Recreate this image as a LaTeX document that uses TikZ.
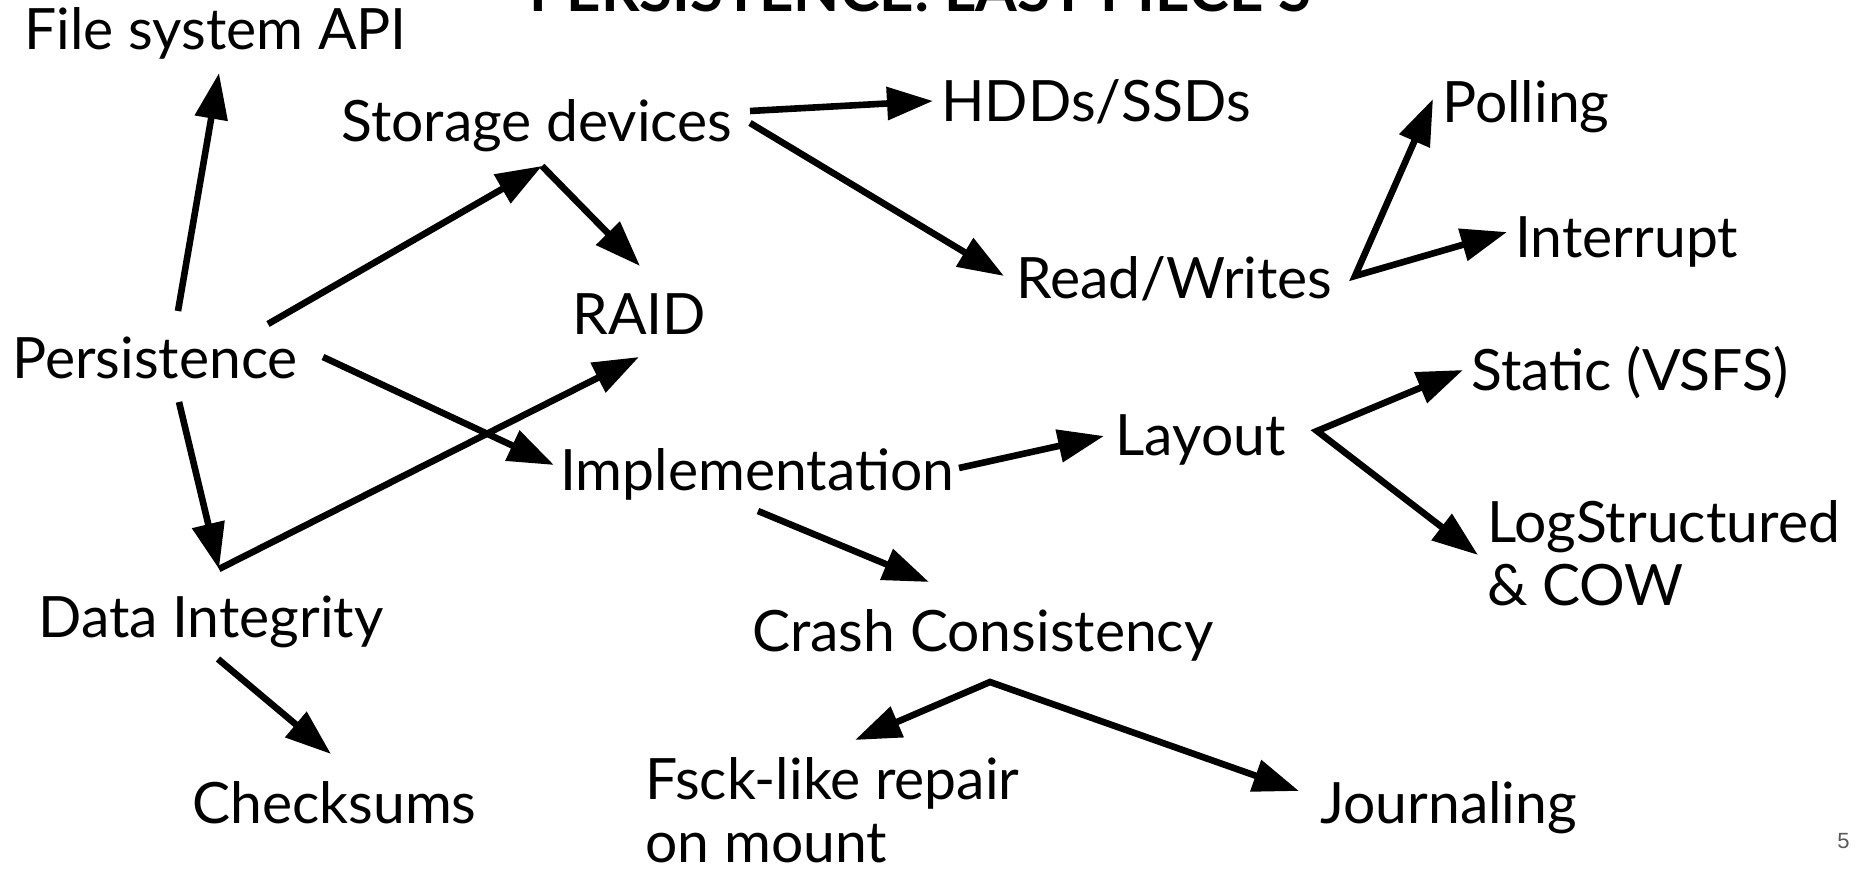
\documentclass[tikz,border=0pt]{standalone}
\usepackage{fontspec}
\setmainfont{Lato}
\newfontfamily\numfont{Liberation Sans}
\usetikzlibrary{arrows.meta}
\begin{document}
\begin{tikzpicture}[x=0.5pt,y=-0.5pt,
  lbl/.style={anchor=base west, inner sep=0pt, align=left,
    font=\fontsize{28.5}{31.5}\selectfont},
  arr/.style={line width=3.3pt, -{Triangle[length=23pt,width=16pt]}},
  twoarr/.style={line width=3.3pt, line join=miter,
    {Triangle[length=23pt,width=16pt]}-{Triangle[length=23pt,width=16pt]}}]
\useasboundingbox (0,0) rectangle (1856,876);
\clip (0,0) rectangle (1856,876);

% heading, cut by the top edge of the slide
\node[anchor=base west, inner sep=0pt, font=\fontsize{30}{36}\selectfont\bfseries]
  (title) at (529,12) {PERSISTENCE: LAST PIECE S};

% topics (two-line labels are placed by the baseline of their last line)
\node[lbl] (fsapi)   at (24,50)    {File system API};
\node[lbl] (storage) at (341,142)  {Storage devices};
\node[lbl] (hdd)     at (941,122)  {HDDs/SSDs};
\node[lbl] (poll)    at (1442,123) {Polling};
\node[lbl] (intr)    at (1515,258) {Interrupt};
\node[lbl] (rw)      at (1016,299) {Read/Writes};
\node[lbl] (raid)    at (572,335)  {RAID};
\node[lbl] (persist) at (12,379)   {Persistence};
\node[lbl] (static)  at (1471,391) {Static (VSFS)};
\node[lbl] (layout)  at (1115,456) {Layout};
\node[lbl] (impl)    at (560,490)  {Implementation};
\node[lbl] (lfs)     at (1487,605) {LogStructured\\\& COW};
\node[lbl] (dint)    at (38,637)   {Data Integrity};
\node[lbl] (crash)   at (752,651)  {Crash Consistency};
\node[lbl] (cksum)   at (192,823)  {Checksums};
\node[lbl] (fsck)    at (645,862)  {Fsck-like repair\\on mount};
\node[lbl] (journal) at (1320,823) {Journaling};

% slide number
\node[anchor=base east, inner sep=0pt, text=black!65,
  font=\numfont\fontsize{11}{13}\selectfont] (pagenum) at (1850,848) {5};

% connectors
\draw[arr] ([shift={(166,-68)}]persist.base west) -- ([shift={(195,23)}]fsapi.base west);
\draw[arr] ([shift={(256,-55)}]persist.base west) -- ([shift={(201,24)}]storage.base west);
\draw[arr] ([shift={(201,24)}]storage.base west) -- ([shift={(68,-69)}]raid.base west);
\draw[arr] ([shift={(409,-31)}]storage.base west) -- ([shift={(-8,-21)}]hdd.base west);
\draw[arr] ([shift={(409,-19)}]storage.base west) -- ([shift={(-12,-23)}]rw.base west);
\draw[twoarr] ([shift={(-9,-24)}]poll.base west) -- ([shift={(339,-23)}]rw.base west)
  -- ([shift={(-8,-26)}]intr.base west);
\draw[arr] ([shift={(311,-22)}]persist.base west) -- ([shift={(-6,-25)}]impl.base west);
\draw[arr] ([shift={(167,23)}]persist.base west) -- ([shift={(181,-68)}]dint.base west);
\draw[arr] ([shift={(181,-68)}]dint.base west) -- ([shift={(67,22)}]raid.base west);
\draw[arr] ([shift={(399,-22)}]impl.base west) -- ([shift={(-11,-20)}]layout.base west);
\draw[arr] ([shift={(198,21)}]impl.base west) -- ([shift={(177,-69)}]crash.base west);
\draw[twoarr] ([shift={(-8,-21)}]static.base west) -- ([shift={(202,-25)}]layout.base west)
  -- ([shift={(-9,-50)}]lfs.base west);
\draw[arr] ([shift={(180,22)}]dint.base west) -- ([shift={(139,-69)}]cksum.base west);
\draw[twoarr] ([shift={(210,-122)}]fsck.base west) -- ([shift={(238,31)}]crash.base west)
  -- ([shift={(-21,-32)}]journal.base west);
\end{tikzpicture}
\end{document}
